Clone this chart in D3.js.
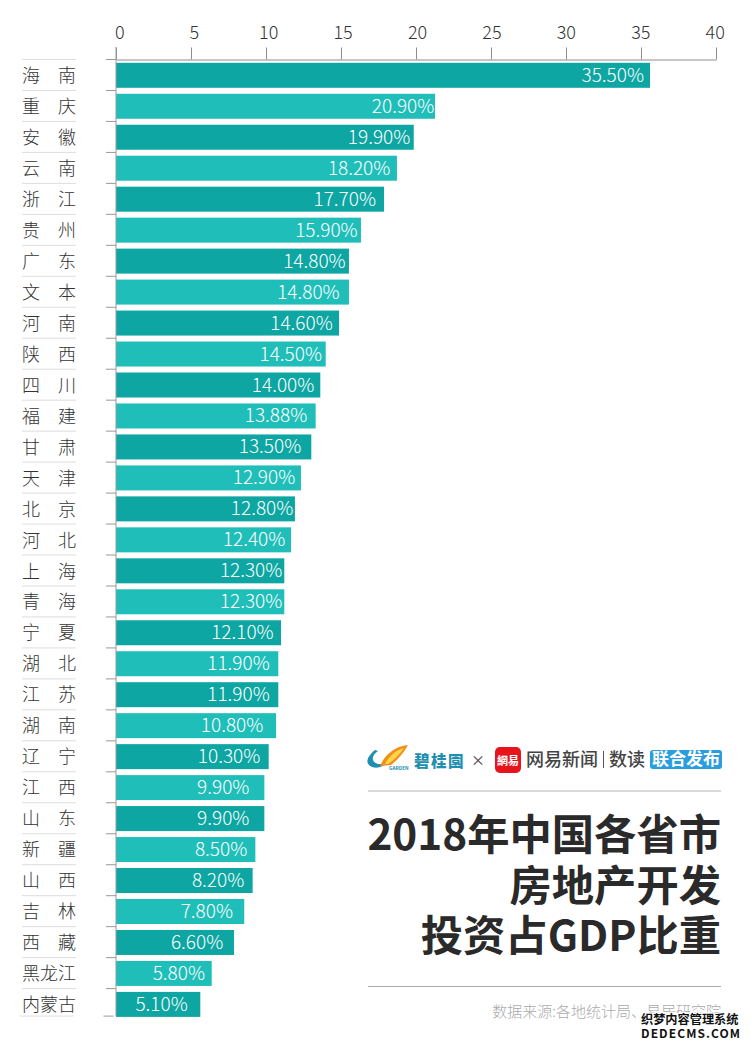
<!DOCTYPE html>
<html><head><meta charset="utf-8">
<script src="https://cdn.jsdelivr.net/npm/d3@7"></script>
<style>
html,body{margin:0;padding:0;background:#fff}
svg{display:block}
text{font-family:"Noto Sans CJK SC","Noto Sans",sans-serif}
.light{font-family:"Noto Sans CJK SC Light","Source Han Sans SC Light","Noto Sans CJK SC","Noto Sans",sans-serif;font-weight:300}
</style></head><body>
<script>
const provinces=["海南","重庆","安徽","云南","浙江","贵州","广东","文本","河南","陕西","四川","福建","甘肃","天津","北京","河北","上海","青海","宁夏","湖北","江苏","湖南","辽宁","江西","山东","新疆","山西","吉林","西藏","黑龙江","内蒙古"];
const valueLabels=["35.50%","20.90%","19.90%","18.20%","17.70%","15.90%","14.80%","14.80%","14.60%","14.50%","14.00%","13.88%","13.50%","12.90%","12.80%","12.40%","12.30%","12.30%","12.10%","11.90%","11.90%","10.80%","10.30%","9.90%","9.90%","8.50%","8.20%","7.80%","6.60%","5.80%","5.10%"];
// Bar lengths as drawn in the picture, in axis units (they do not follow the printed labels exactly)
const barLengths=[35.6,21.27,19.85,18.73,17.87,16.33,15.53,15.53,14.87,13.98,13.62,13.31,13.02,12.33,11.93,11.67,11.22,11.22,11.0,10.82,10.82,10.67,10.18,9.89,9.89,9.29,9.11,8.55,7.87,6.38,5.62];
// Where each printed label ends, in axis units
const labelEnds=[35.2,21.22,19.62,18.29,17.33,16.11,15.31,14.91,14.45,13.73,13.22,12.75,12.35,11.95,11.82,11.29,11.09,11.09,10.51,10.25,10.25,9.82,9.62,8.89,8.89,8.75,8.55,7.8,7.15,5.93,4.78];
const xTicks=[0,5,10,15,20,25,30,35,40];
const titleLines=["2018年中国各省市","房地产开发","投资占GDP比重"];
const sourceText="数据来源:各地统计局、易居研究院";
const publishers=["碧桂園","网易新闻","数读","联合发布"];

const W=750,H=1046,N=provinces.length;
const svg=d3.select("body").append("svg").attr("width",W).attr("height",H).attr("viewBox",`0 0 ${W} ${H}`);
const x=d3.scaleLinear().domain([0,40]).range([116,716]);
const xLabel=d3.scaleLinear().domain([0,40]).range([119.3,714.7]);
const y0=d3.scaleLinear().domain([0,N]).range([59.5,59.5+N*30.97]);

// Bars
svg.append("g").selectAll("rect").data(provinces).join("rect")
  .attr("x",x(0)).attr("y",(d,i)=>y0(i)+3.3).attr("height",25)
  .attr("width",(d,i)=>x(barLengths[i])-x(0))
  .attr("fill",(d,i)=>i%2?"#20beb9":"#0da6a3");

// Top axis
const ax=d3.axisTop(x).tickValues(xTicks).tickSize(12).tickSizeOuter(0).tickPadding(8);
const axg=svg.append("g").attr("transform","translate(0,59.5)").call(ax);
axg.selectAll("path,line").attr("stroke","#8c8c8c").attr("stroke-width",1);
axg.selectAll("text").attr("class","light").attr("font-size",18).attr("fill","#333")
   .attr("x",d=>xLabel(d)-x(d)).attr("dy",0).attr("y",-20.2);

// Left axis + ticks (the last one sits a little higher and to the left in the picture)
const lastY=y0(N-1)+27.5;
const tickRows=d3.range(N+1);
const tickY=i=>i===N?lastY:y0(i);
const tickDx=i=>i===N?-2.5:0;
const g=svg.append("g").attr("stroke","#999");
g.append("line").attr("x1",116).attr("x2",116).attr("y1",47).attr("y2",lastY);
g.selectAll(".t").data(tickRows).join("line").attr("class","t")
 .attr("x1",i=>106+tickDx(i)).attr("x2",i=>116+tickDx(i)).attr("y1",tickY).attr("y2",tickY);

// Row separators
svg.append("g").selectAll("line").data(tickRows).join("line")
 .attr("x1",i=>22+tickDx(i)).attr("x2",i=>76+tickDx(i)).attr("y1",tickY).attr("y2",tickY).attr("stroke","#ddd");

// Province labels (justified)
const lab=svg.append("g").attr("font-size",18).attr("fill","#333");
provinces.forEach((p,i)=>{
  const cy=y0(i)+22.5;
  const chars=[...p];
  chars.forEach((c,k)=>{
    const tx=chars.length===2?(k===0?22:58):(22+k*18);
    lab.append("text").attr("class","light").attr("x",tx).attr("y",cy).text(c);
  });
});

// Value labels
svg.append("g").selectAll("text").data(provinces).join("text").attr("class","light")
 .attr("x",(d,i)=>x(labelEnds[i])).attr("y",(d,i)=>y0(i)+22.3)
 .attr("text-anchor","end").attr("font-size",19).attr("fill","#fff")
 .text((d,i)=>valueLabels[i]);

// Publisher strip
const p=svg.append("g");
p.append("path").attr("d","M375 750 C369 755 365 761 369 765 C373 769 382 769 388 762 C382 765 375 765 373 760 C372 756 375 753 378 751Z").attr("fill","#1f8fb0");
p.append("path").attr("d","M380 766 C385 754 396 746 408 745 C404 752 399 759 391 765Z").attr("fill","#f0901a");
p.append("path").attr("d","M385 764 C389 756 396 750 404 748 C400 754 394 760 388 764Z").attr("fill","#fbd64a");
p.append("text").attr("x",389).attr("y",770).attr("font-size",4.8).attr("font-weight",700).attr("fill","#1f8fb0").text("GARDEN");
p.append("text").attr("x",414).attr("y",767).attr("font-size",15.5).attr("letter-spacing",1.5).attr("font-weight",900).attr("fill","#1f8fb0").text(publishers[0]);
p.append("text").attr("x",478).attr("y",765).attr("text-anchor","middle").attr("font-size",14).attr("fill","#444").text("×");
p.append("rect").attr("x",495).attr("y",747).attr("width",26).attr("height",26).attr("rx",5).attr("fill","#e8141c");
p.append("text").attr("x",508).attr("y",765).attr("text-anchor","middle").attr("font-size",11).attr("font-weight",700).attr("fill","#fff").text("網易");
p.append("text").attr("x",526).attr("y",766).attr("font-size",18).attr("font-weight",500).attr("fill","#444").text(publishers[1]);
p.append("line").attr("x1",603.5).attr("x2",603.5).attr("y1",751).attr("y2",768).attr("stroke","#555");
p.append("text").attr("x",609).attr("y",766).attr("font-size",18).attr("font-weight",500).attr("fill","#444").text(publishers[2]);
p.append("rect").attr("x",650).attr("y",750).attr("width",72).attr("height",19).attr("rx",3).attr("fill","#2a9ddc");
p.append("text").attr("x",686).attr("y",765).attr("text-anchor","middle").attr("font-size",17).attr("font-weight",700).attr("fill","#fff").text(publishers[3]);

// Rules
svg.append("line").attr("x1",368).attr("x2",721).attr("y1",791).attr("y2",791).attr("stroke","#ccc").attr("stroke-width",1.5);
svg.append("line").attr("x1",368).attr("x2",721).attr("y1",986.5).attr("y2",986.5).attr("stroke","#aaa");

// Title
svg.append("g").selectAll("text").data(titleLines).join("text")
 .attr("x",721).attr("y",(d,i)=>850+i*50.5).attr("text-anchor","end")
 .attr("font-size",42.3).attr("font-weight",700).attr("fill","#2a2a2a").text(d=>d);

// Source
svg.append("text").attr("class","light").attr("x",721).attr("y",1017).attr("text-anchor","end").attr("font-size",15).attr("fill","#aaa").text(sourceText);

// Watermark
const wm=svg.append("g").attr("fill","#111").attr("stroke","#fff").attr("stroke-width",2.5).attr("paint-order","stroke");
wm.append("text").attr("x",641).attr("y",1024).attr("font-size",12.2).attr("font-weight",700).text("织梦内容管理系统");
wm.append("text").attr("x",641).attr("y",1038).attr("font-size",12).attr("font-weight",700).attr("font-family","DejaVu Sans Mono").attr("textLength",99).text("DEDECMS.COM");
</script>
</body></html>
